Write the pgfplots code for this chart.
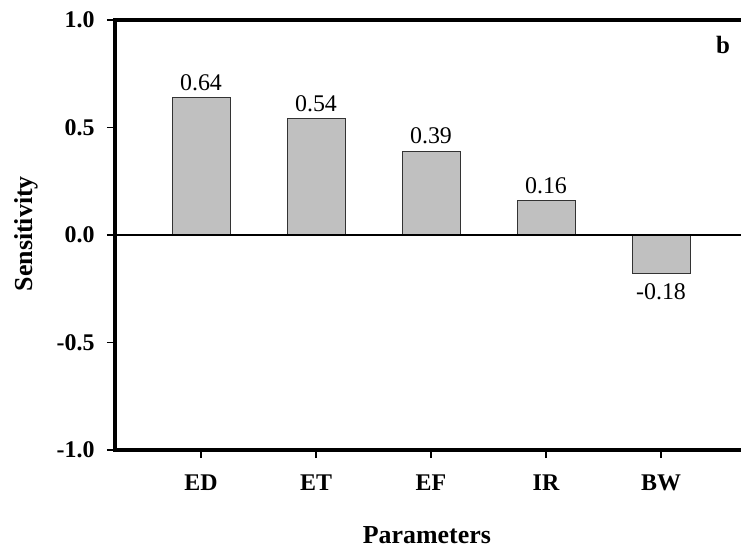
\documentclass[border=0pt]{standalone}
\usepackage{pgfplots}
\pgfplotsset{compat=1.18}
\usepackage{fontspec}
\setmainfont{Liberation Serif}
\definecolor{barfill}{HTML}{C0C0C0}
\definecolor{baredge}{HTML}{333333}
\begin{document}
\begin{tikzpicture}
\useasboundingbox (-115bp,-100bp) rectangle (626bp,450bp);
\begin{axis}[
  at={(0,0)}, anchor=south west,
  scale only axis, width=632.5bp, height=430bp,
  xmin=-0.748, xmax=4.752, ymin=-1, ymax=1,
  ybar, bar width=58bp,
  xtick={0,1,2,3,4}, xticklabels={ED,ET,EF,IR,BW},
  ytick={-1,-0.5,0,0.5,1},
  axis lines*=left,
  tick align=outside, major tick length=8bp,
  tick pos=left,
  axis line style={line width=3.8pt, line cap=rect, black},
  tick style={black, line width=1.2pt},
  yticklabel style={/pgf/number format/fixed, /pgf/number format/fixed zerofill, /pgf/number format/precision=1, xshift=-9bp},
  xticklabel style={yshift=-13bp},
  /pgf/number format/assume math mode=true,
  tick label style={font=\fontsize{24}{28}\selectfont\bfseries},
  xlabel={Parameters}, ylabel={Sensitivity},
  label style={font=\fontsize{26}{30}\selectfont\bfseries},
  xlabel style={at={(axis description cs:0.493,0)}, anchor=base, yshift=-93bp},
  ylabel style={at={(axis description cs:0,0.503)}, anchor=base, yshift=82bp},
  clip=false,
]
\addplot[bar shift=0pt, fill=barfill, draw=baredge, line width=1pt,
  nodes near coords={\pgfmathprintnumber[fixed,fixed zerofill,precision=2,assume math mode=true]{\pgfplotspointmeta}},
  nodes near coords style={font=\fontsize{24}{28}\selectfont, anchor=south, inner sep=0pt, yshift=6.5bp, black}]
  coordinates {(0,0.64) (1,0.54) (2,0.39) (3,0.16)};
\addplot[bar shift=0pt, fill=barfill, draw=baredge, line width=1pt,
  nodes near coords={\pgfmathprintnumber[fixed,fixed zerofill,precision=2,assume math mode=true]{\pgfplotspointmeta}},
  nodes near coords style={font=\fontsize{24}{28}\selectfont, anchor=north, inner sep=0pt, yshift=-9bp, black}]
  coordinates {(4,-0.18)};
\addplot[sharp plot, black, line width=1.8pt, forget plot] coordinates {(-0.748,0) (4.752,0)};
\draw[line width=3.8pt, line cap=rect, black] (rel axis cs:0,1) -- (rel axis cs:1,1);
\node[font=\fontsize{25}{30}\selectfont\bfseries] at (axis cs:4.539,0.884) {b};
\end{axis}
\end{tikzpicture}
\end{document}
